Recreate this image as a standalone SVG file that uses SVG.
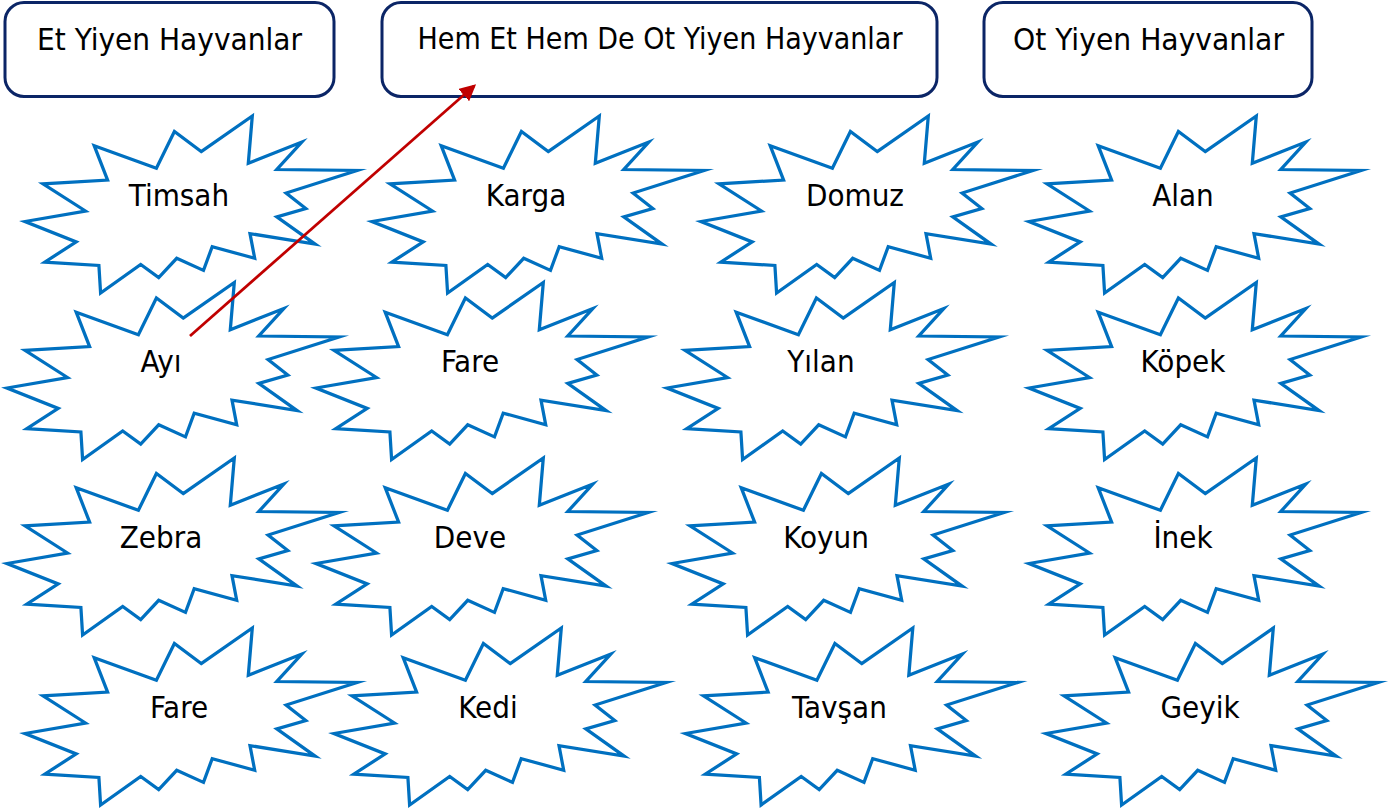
<svg xmlns="http://www.w3.org/2000/svg" xmlns:xlink="http://www.w3.org/1999/xlink" width="1400" height="811" viewBox="0 0 1400 811">
<style>
.hdr{fill:#fff;stroke:#0b2566;stroke-width:3}
.star{fill:#fff;stroke:#0070c0;stroke-width:3.25;stroke-linejoin:miter;stroke-miterlimit:10}
.t{font-family:"DejaVu Sans Condensed","DejaVu Sans",sans-serif;font-stretch:condensed;font-size:31px;fill:#000;text-anchor:middle}
.conn{stroke:#c00000;stroke-width:2.75;fill:none}
</style>
<defs>
<polygon id="seal" points="176.2,35.6 227.3,0 223.3,47.3 276.8,26 251.8,53.5 332,54.5 261.1,77 280.8,92.5 251.8,100.9 290.1,128.1 225,117.6 229.7,142.3 187.2,130.6 178.5,154.4 151.7,142.3 133.7,161.5 115.7,148.5 75.6,177 73.9,149.5 19.8,146.1 51.2,125.9 0,105.5 60.5,95 18,67.8 82.6,64.1 69.2,29.7 131.4,52.3 149.4,15.5"/>
<marker id="ah" markerWidth="6" markerHeight="6" refX="5" refY="3" orient="auto" markerUnits="strokeWidth">
<path d="M0,0 L6,3 L0,6 Z" fill="#c00000"/>
</marker>
</defs>
<rect width="1400" height="811" fill="#fff"/>

<g id="hdr-et">
<rect class="hdr" x="5" y="2.5" width="329" height="94" rx="19"/>
<text class="t" x="169.5" y="49.5" textLength="265" lengthAdjust="spacingAndGlyphs">Et Yiyen Hayvanlar</text>
</g>
<g id="hdr-hem">
<rect class="hdr" x="382" y="2.5" width="555" height="94" rx="19"/>
<text class="t" x="660" y="48.5" textLength="485" lengthAdjust="spacingAndGlyphs">Hem Et Hem De Ot Yiyen Hayvanlar</text>
</g>
<g id="hdr-ot">
<rect class="hdr" x="984" y="2.5" width="328" height="94" rx="19"/>
<text class="t" x="1148.5" y="49.5" textLength="271" lengthAdjust="spacingAndGlyphs">Ot Yiyen Hayvanlar</text>
</g>

<g id="n-timsah"><use xlink:href="#seal" href="#seal" class="star" x="25" y="116"/><text class="t" x="179" y="206">Timsah</text></g>
<g id="n-karga"><use xlink:href="#seal" href="#seal" class="star" x="372" y="116"/><text class="t" x="526" y="206">Karga</text></g>
<g id="n-domuz"><use xlink:href="#seal" href="#seal" class="star" x="701" y="116"/><text class="t" x="855" y="206">Domuz</text></g>
<g id="n-alan"><use xlink:href="#seal" href="#seal" class="star" x="1029" y="116"/><text class="t" x="1183" y="206">Alan</text></g>

<g id="n-ayi"><use xlink:href="#seal" href="#seal" class="star" x="7" y="282.5"/><text class="t" x="161" y="372">Ayı</text></g>
<g id="n-fare1"><use xlink:href="#seal" href="#seal" class="star" x="316" y="282.5"/><text class="t" x="470" y="372">Fare</text></g>
<g id="n-yilan"><use xlink:href="#seal" href="#seal" class="star" x="667" y="282.5"/><text class="t" x="821" y="372">Yılan</text></g>
<g id="n-kopek"><use xlink:href="#seal" href="#seal" class="star" x="1029" y="282.5"/><text class="t" x="1183" y="372">Köpek</text></g>

<g id="n-zebra"><use xlink:href="#seal" href="#seal" class="star" x="7" y="458"/><text class="t" x="161" y="547.5">Zebra</text></g>
<g id="n-deve"><use xlink:href="#seal" href="#seal" class="star" x="316" y="458"/><text class="t" x="470" y="547.5">Deve</text></g>
<g id="n-koyun"><use xlink:href="#seal" href="#seal" class="star" x="672" y="458"/><text class="t" x="826" y="547.5">Koyun</text></g>
<g id="n-inek"><use xlink:href="#seal" href="#seal" class="star" x="1029" y="458"/><text class="t" x="1183" y="547.5">İnek</text></g>

<g id="n-fare2"><use xlink:href="#seal" href="#seal" class="star" x="25" y="628"/><text class="t" x="179" y="717.5">Fare</text></g>
<g id="n-kedi"><use xlink:href="#seal" href="#seal" class="star" x="334" y="628"/><text class="t" x="488" y="717.5">Kedi</text></g>
<g id="n-tavsan"><use xlink:href="#seal" href="#seal" class="star" x="685.5" y="628"/><text class="t" x="839.5" y="717.5">Tavşan</text></g>
<g id="n-geyik"><use xlink:href="#seal" href="#seal" class="star" x="1046" y="628"/><text class="t" x="1200" y="717.5">Geyik</text></g>

<g id="connectors">
<line class="conn" x1="190" y1="336" x2="474" y2="86" marker-end="url(#ah)"/>
</g>
</svg>
